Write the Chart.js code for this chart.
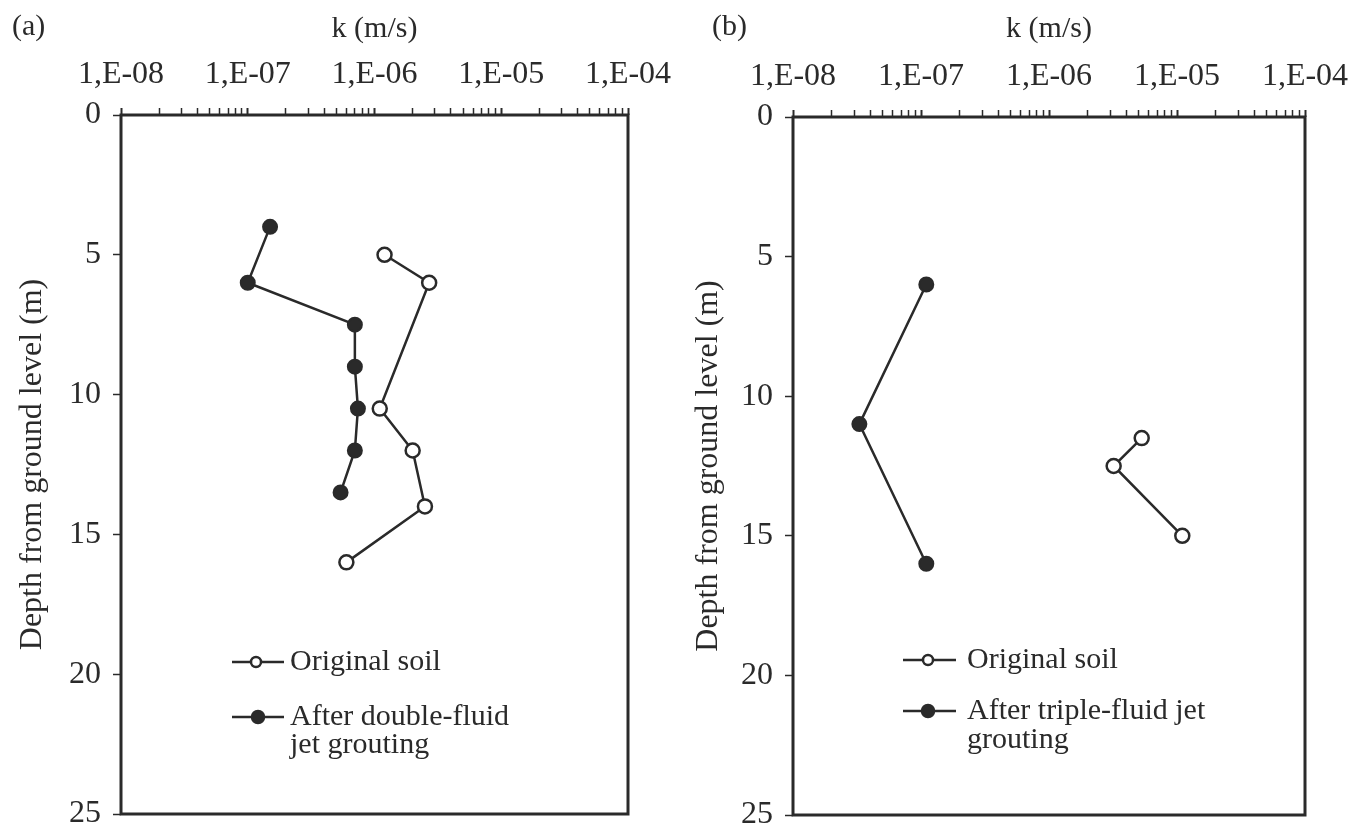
<!DOCTYPE html>
<html>
<head>
<meta charset="utf-8">
<script src="https://cdn.jsdelivr.net/npm/chart.js@4.4.1/dist/chart.umd.min.js"></script>
<style>
    html, body { margin: 0; padding: 0; background: #fff; }
    #wrap { position: relative; width: 1352px; height: 827px; overflow: hidden; }
    .panel { position: absolute; top: 0; width: 676px; height: 827px; }
    .tag { position: absolute; top: 8px; font: 30px "Liberation Serif", serif; color: #2a2a2a; }
</style>
</head>
<body>
<div id="wrap">
    <div class="panel" style="left:0"><canvas id="chartA" width="676" height="827"></canvas></div>
    <div class="panel" style="left:676px"><canvas id="chartB" width="676" height="827"></canvas></div>
    <div class="tag" style="left:12px">(a)</div>
    <div class="tag" style="left:712px">(b)</div>
</div>
<script>
// Panel (a) - double-fluid jet grouting
const depthOriginalA = [5, 6, 10.5, 12, 14, 16];
const kOriginalA = [1.2e-6, 2.7e-6, 1.1e-6, 2.0e-6, 2.5e-6, 6.0e-7];
const depthAfterA = [4, 6, 7.5, 9, 10.5, 12, 13.5];
const kAfterA = [1.5e-7, 1.0e-7, 7.0e-7, 7.0e-7, 7.4e-7, 7.0e-7, 5.4e-7];
const legendA = ["Original soil", "After double-fluid\njet grouting"];

// Panel (b) - triple-fluid jet grouting
const depthOriginalB = [11.5, 12.5, 15];
const kOriginalB = [5.3e-6, 3.2e-6, 1.1e-5];
const depthAfterB = [6, 11, 16];
const kAfterB = [1.1e-7, 3.3e-8, 1.1e-7];
const legendB = ["Original soil", "After triple-fluid jet\ngrouting"];

// Axes
const kDecades = [-8, -7, -6, -5, -4];
const kTickLabels = ["1,E-08", "1,E-07", "1,E-06", "1,E-05", "1,E-04"];
const depthTicks = [0, 5, 10, 15, 20, 25];

const INK = "#2a2a2a";
const FONT = "Liberation Serif";

function toPoints(ks, depths) {
    return ks.map((k, i) => ({ x: k, y: depths[i] }));
}

// box round the plot area
const framePlugin = {
    id: "frame",
    beforeDatasetsDraw(chart) {
        const a = chart.chartArea;
        const ctx = chart.ctx;
        ctx.save();
        ctx.strokeStyle = INK;
        ctx.lineWidth = 3;
        ctx.strokeRect(a.left, a.top, a.right - a.left, a.bottom - a.top);
        ctx.restore();
    }
};

// legend drawn inside the plot, symbol then text
const insideLegend = {
    id: "insideLegend",
    afterDraw(chart, args, opts) {
        const ctx = chart.ctx;
        ctx.save();
        ctx.font = `30px "${FONT}"`;
        ctx.textBaseline = "middle";
        ctx.textAlign = "left";
        chart.data.datasets.forEach((ds, i) => {
            const row = opts.rows[i];
            ctx.strokeStyle = INK;
            ctx.lineWidth = 2.5;
            ctx.beginPath();
            ctx.moveTo(row.x0, row.y);
            ctx.lineTo(row.x1, row.y);
            ctx.stroke();
            ctx.beginPath();
            ctx.arc(row.mx, row.y, row.r, 0, Math.PI * 2);
            ctx.fillStyle = ds.pointBackgroundColor;
            ctx.fill();
            ctx.stroke();
            ctx.fillStyle = INK;
            ds.label.split("\n").forEach((line, j) => {
                ctx.fillText(line, row.tx, row.y + j * opts.lineGap);
            });
        });
        ctx.restore();
    }
};

function makeChart(id, original, after, labels, box, legendRows, lineGap) {
    return new Chart(document.getElementById(id), {
        type: "scatter",
        data: {
            datasets: [
                {
                    label: labels[0],
                    data: original,
                    showLine: true,
                    borderColor: INK,
                    borderWidth: 2.5,
                    pointRadius: 7,
                    pointBackgroundColor: "#fff",
                    pointBorderColor: INK,
                    pointBorderWidth: 2.5
                },
                {
                    label: labels[1],
                    data: after,
                    showLine: true,
                    borderColor: INK,
                    borderWidth: 2.5,
                    pointRadius: 7,
                    pointBackgroundColor: INK,
                    pointBorderColor: INK,
                    pointBorderWidth: 2
                }
            ]
        },
        options: {
            responsive: false,
            animation: false,
            layout: { padding: { left: 0, top: 0, right: box.right, bottom: box.bottom } },
            plugins: {
                legend: { display: false },
                tooltip: { enabled: false },
                insideLegend: { rows: legendRows, lineGap: lineGap }
            },
            scales: {
                x: {
                    type: "logarithmic",
                    position: "top",
                    min: 1e-8,
                    max: 1e-4,
                    afterBuildTicks: scale => {
                        const ticks = [];
                        kDecades.forEach((e, i) => {
                            if (i === kDecades.length - 1) {
                                ticks.push({ value: Math.pow(10, e), major: true });
                                return;
                            }
                            for (let m = 1; m < 10; m++) {
                                ticks.push({ value: m * Math.pow(10, e), major: m === 1 });
                            }
                        });
                        scale.ticks = ticks;
                    },
                    afterFit: scale => {
                        scale.height = box.top;
                        scale.paddingLeft = 0;
                        scale.paddingRight = 0;
                    },
                    grid: {
                        drawOnChartArea: false,
                        tickLength: 7,
                        tickColor: INK,
                        tickWidth: ctx => (ctx.tick && ctx.tick.major ? 2 : 1.5)
                    },
                    border: { display: false },
                    ticks: {
                        autoSkip: false,
                        maxRotation: 0,
                        padding: 14,
                        color: INK,
                        font: { family: FONT, size: 32 },
                        callback: value => {
                            const e = Math.round(Math.log10(value));
                            if (Math.abs(value / Math.pow(10, e) - 1) > 1e-6) return "";
                            const idx = kDecades.indexOf(e);
                            return idx >= 0 ? kTickLabels[idx] : "";
                        }
                    },
                    title: {
                        display: true,
                        text: "k (m/s)",
                        color: INK,
                        font: { family: FONT, size: 30 },
                        padding: { top: 11, bottom: 0 }
                    }
                },
                y: {
                    type: "linear",
                    reverse: true,
                    min: 0,
                    max: 25,
                    afterBuildTicks: scale => {
                        scale.ticks = depthTicks.map(v => ({ value: v }));
                    },
                    afterFit: scale => {
                        scale.width = box.left;
                        scale.paddingTop = 0;
                        scale.paddingBottom = 0;
                    },
                    grid: {
                        drawOnChartArea: false,
                        tickLength: 8,
                        tickColor: INK,
                        tickWidth: 1.5
                    },
                    border: { display: false },
                    ticks: {
                        padding: 12,
                        color: INK,
                        font: { family: FONT, size: 32 }
                    },
                    title: {
                        display: true,
                        text: "Depth from ground level (m)",
                        color: INK,
                        font: { family: FONT, size: 32 },
                        padding: { top: 13, bottom: 0 }
                    }
                }
            }
        },
        plugins: [framePlugin, insideLegend]
    });
}

makeChart(
    "chartA",
    toPoints(kOriginalA, depthOriginalA),
    toPoints(kAfterA, depthAfterA),
    legendA,
    { left: 121, top: 115, right: 48, bottom: 13 },
    [
        { x0: 232, x1: 284, mx: 256, r: 5, y: 662, tx: 290 },
        { x0: 232, x1: 284, mx: 258, r: 6, y: 717, tx: 290 }
    ],
    28
);

makeChart(
    "chartB",
    toPoints(kOriginalB, depthOriginalB),
    toPoints(kAfterB, depthAfterB),
    legendB,
    { left: 117, top: 117, right: 47, bottom: 12 },
    [
        { x0: 227, x1: 280, mx: 252, r: 5, y: 660, tx: 291 },
        { x0: 227, x1: 280, mx: 252, r: 6, y: 711, tx: 291 }
    ],
    29
);
</script>
</body>
</html>
